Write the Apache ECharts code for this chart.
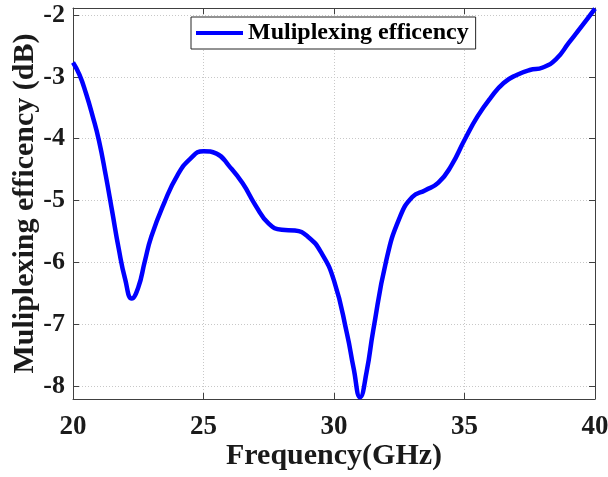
<!DOCTYPE html>
<html><head><meta charset="utf-8">
<script src="https://cdn.jsdelivr.net/npm/echarts@6/dist/echarts.min.js"></script>
<style>html,body{margin:0;padding:0;background:#fff}#c{width:608px;height:477px}</style>
</head><body><div id="c"></div>
<script>
const freq = [20.0,20.25,20.5,20.75,21.0,21.25,21.5,21.75,22.0,22.25,22.5,22.75,23.0,23.5,24.0,24.5,25.0,25.5,26.0,26.5,27.0,27.5,28.0,28.5,29.0,29.5,30.0,30.5,30.75,31.0,31.25,31.5,32.0,32.5,33.0,33.5,34.0,34.5,35.0,35.5,36.0,36.5,37.0,37.5,38.0,38.5,39.0,39.5,40.0];
const eff = [-2.77,-2.97,-3.27,-3.63,-4.04,-4.58,-5.17,-5.77,-6.27,-6.58,-6.40,-5.98,-5.58,-5.03,-4.59,-4.32,-4.20,-4.24,-4.45,-4.72,-5.08,-5.37,-5.47,-5.48,-5.58,-5.83,-6.29,-7.15,-7.70,-8.17,-7.76,-7.10,-5.97,-5.29,-4.94,-4.83,-4.71,-4.43,-4.02,-3.64,-3.34,-3.10,-2.97,-2.89,-2.85,-2.72,-2.45,-2.18,-1.90];
const xTicks = [20,25,30,35,40];
const yTicks = [-8,-7,-6,-5,-4,-3,-2];
const seriesName = 'Muliplexing efficency';
const xTitle = 'Frequency(GHz)';
const yTitle = 'Muliplexing efficency (dB)';

const font = '"Liberation Serif","Times New Roman",serif';
const axisCol = '#404040';
const gridLine = {show:true, lineStyle:{color:'#c8c8c8', type:[1,2], width:1}};
const chart = echarts.init(document.getElementById('c'), null, {renderer:'canvas'});
const xBase = {type:'value', min:20, max:40, interval:1,
  axisLine:{show:true, onZero:false, lineStyle:{color:axisCol, width:1}},
  axisTick:{show:true, inside:true, length:6, customValues:xTicks, lineStyle:{color:axisCol}}};
const yBase = {type:'value', min:-8.2, max:-1.89, interval:0.2,
  axisLine:{show:true, onZero:false, lineStyle:{color:axisCol, width:1}},
  axisTick:{show:true, inside:true, length:6, customValues:yTicks, lineStyle:{color:axisCol}}};
chart.setOption({
  animation:false,
  backgroundColor:'#fff',
  grid:{left:73, top:8, width:522, height:391, containLabel:false, outerBoundsMode:'none'},
  legend:{
    data:[{name:seriesName, icon:'rect'}],
    left:191, top:17, itemWidth:47, itemHeight:4, itemGap:6,
    padding:[4,7,4,5],
    borderColor:'#262626', borderWidth:1, backgroundColor:'#fff',
    textStyle:{fontFamily:font, fontWeight:'bold', fontSize:24, color:'#000'}
  },
  xAxis:[
    Object.assign({}, xBase, {position:'bottom',
      name:xTitle, nameLocation:'middle', nameGap:42, nameMoveOverlap:false,
      nameTextStyle:{fontFamily:font, fontWeight:'bold', fontSize:30, color:'#1a1a1a'},
      axisLabel:{show:true, customValues:xTicks, margin:15, fontFamily:font, fontWeight:'bold', fontSize:27, color:'#1a1a1a'},
      splitLine:gridLine}),
    Object.assign({}, xBase, {position:'top', axisLabel:{show:false}, splitLine:{show:false}})
  ],
  yAxis:[
    Object.assign({}, yBase, {position:'left',
      name:yTitle, nameLocation:'middle', nameGap:33, nameMoveOverlap:false,
      nameTextStyle:{fontFamily:font, fontWeight:'bold', fontSize:30, color:'#1a1a1a'},
      axisLabel:{show:true, customValues:yTicks, margin:8, fontFamily:font, fontWeight:'bold', fontSize:26, color:'#1a1a1a',
        formatter:v=>String(Math.round(v))},
      splitLine:gridLine}),
    Object.assign({}, yBase, {position:'right', axisLabel:{show:false}, splitLine:{show:false}})
  ],
  series:[{
    name:seriesName, type:'line', xAxisIndex:0, yAxisIndex:0,
    data:freq.map((f,i)=>[f, eff[i]]),
    smooth:0.5, showSymbol:false, symbol:'none', clip:false,
    lineStyle:{color:'#0000ff', width:4.5}, itemStyle:{color:'#0000ff'}
  }]
});
</script></body></html>
